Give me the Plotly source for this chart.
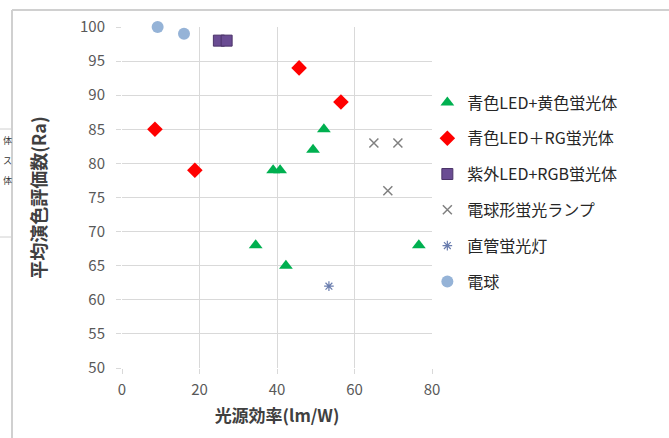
import plotly.graph_objects as go

FONT = "Noto Sans CJK JP"

names = ["青色LED+黄色蛍光体", "青色LED＋RG蛍光体", "紫外LED+RGB蛍光体",
         "電球形蛍光ランプ", "直管蛍光灯", "電球"]

green_x = [34.5, 39, 40.8, 42.3, 49.3, 52.1, 76.6]
green_y = [68, 79, 79, 65, 82, 85, 68]

red_x = [8.5, 18.8, 45.7, 56.5]
red_y = [85, 79, 94, 89]

purple_x = [25, 27]
purple_y = [98, 98]

grey_x = [65, 68.6, 71.2]
grey_y = [83, 76, 83]

tube_x = [53.4]
tube_y = [62]

bulb_x = [9.2, 16]
bulb_y = [100, 99]

series = [
    (green_x, green_y, dict(symbol="triangle-up", color="#00B050", size=12)),
    (red_x, red_y, dict(symbol="diamond", color="#FF0000", size=12)),
    (purple_x, purple_y, dict(symbol="square", color="#6A4C93", size=11,
                              line=dict(color="#4B3468", width=1))),
    (grey_x, grey_y, dict(symbol="x-thin-open", color="#808080", size=9,
                          line=dict(color="#808080", width=1.5))),
    (tube_x, tube_y, dict(symbol="asterisk-open", color="#6A7DAE", size=8,
                          line=dict(color="#6A7DAE", width=1.2))),
    (bulb_x, bulb_y, dict(symbol="circle", color="#95B3D7", size=12)),
]

fig = go.Figure()
for i, (name, (xs, ys, mk)) in enumerate(zip(names, series)):
    fig.add_trace(go.Scatter(x=xs, y=ys, mode="markers", name=name, marker=mk,
                             cliponaxis=False, legendgroup=f"g{i}"))

L, R, T, B = 122, 237, 27, 70
W, H = 669, 438
pw, ph = W - L - R, H - T - B

def px(xp):
    return (xp - L) / pw

def py(yp):
    return (H - B - yp) / ph

shapes = [
    dict(type="line", xref="paper", yref="paper", x0=px(12), x1=px(669), y0=py(10), y1=py(10),
         line=dict(color="#D0D0D0", width=2)),
    dict(type="line", xref="paper", yref="paper", x0=px(12), x1=px(12), y0=py(10), y1=py(438),
         line=dict(color="#D0D0D0", width=2)),
    dict(type="line", xref="paper", yref="paper", x0=px(0), x1=px(12), y0=py(129), y1=py(129),
         line=dict(color="#D0D0D0", width=1)),
    dict(type="line", xref="paper", yref="paper", x0=px(0), x1=px(12), y0=py(237), y1=py(237),
         line=dict(color="#D0D0D0", width=1)),
]

annotations = []
for ch, yy in [("体", 140), ("ス", 160), ("体", 180)]:
    annotations.append(dict(text=ch, xref="paper", yref="paper", x=px(1), y=py(yy),
                            xanchor="left", yanchor="middle", showarrow=False,
                            font=dict(family=FONT, size=9, color="#333333")))

fig.update_layout(
    width=W, height=H,
    margin=dict(l=L, r=R, t=T, b=B, pad=0),
    paper_bgcolor="white", plot_bgcolor="white",
    font=dict(family=FONT, color="#404040"),
    showlegend=True,
    legend=dict(x=0.985, y=py(192), xanchor="left", yanchor="middle",
                font=dict(family=FONT, size=16, color="#262626"),
                tracegroupgap=12, traceorder="grouped", itemwidth=30,
                bgcolor="rgba(0,0,0,0)"),
    shapes=shapes,
    annotations=annotations,
)
fig.update_xaxes(range=[0, 80], dtick=20, tick0=0, showgrid=True, gridcolor="#D9D9D9",
                 gridwidth=1, zeroline=False, showline=False, ticks="outside", ticklen=5,
                 tickcolor="#D9D9D9", tickfont=dict(family=FONT, size=15, color="#595959"),
                 ticklabelstandoff=3,
                 title=dict(text="<b>光源効率(lm/W)</b>", font=dict(family=FONT, size=17, color="#404040"),
                            standoff=12))
fig.update_yaxes(range=[50, 100], dtick=5, tick0=50, showgrid=True, gridcolor="#D9D9D9",
                 gridwidth=1, zeroline=False, showline=False, ticks="outside", ticklen=5,
                 tickcolor="#D9D9D9", tickfont=dict(family=FONT, size=15, color="#595959"),
                 ticklabelstandoff=8,
                 title=dict(text="<b>平均演色評価数(Ra)</b>", font=dict(family=FONT, size=18, color="#404040"),
                            standoff=28))

fig.write_html("out.html")
